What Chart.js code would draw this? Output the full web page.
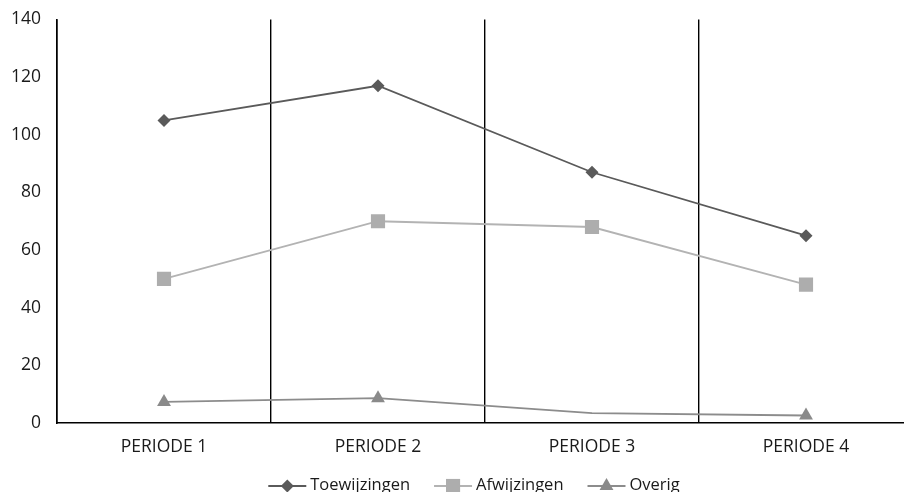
<!DOCTYPE html>
<html>
<head>
<meta charset="utf-8">
<script src="https://cdn.jsdelivr.net/npm/chart.js@4.4.1/dist/chart.umd.min.js"></script>
<style>
  html, body { margin: 0; padding: 0; background: #fff; overflow: hidden; }
  #wrap { width: 904px; height: 492px; overflow: hidden; }
  canvas { display: block; }
</style>
</head>
<body>
<div id="wrap"><canvas id="c" width="916" height="492" style="width:916px;height:492px"></canvas></div>
<script>
// Periods on the x axis
const categories = ['PERIODE 1', 'PERIODE 2', 'PERIODE 3', 'PERIODE 4'];

// Series values per period
const toewijzingen = [105, 117, 87, 65];
const afwijzingen = [50, 70, 68, 48];
const overig = [7.3, 8.6, 3.4, 2.6];

// Y axis range and step
const yMin = 0;
const yMax = 140;
const yStep = 20;

const FONT = '"Open Sans", "Noto Sans", sans-serif';

function markerPath(ctx, style, x, y, r) {
  ctx.beginPath();
  if (style === 'rectRot') {
    ctx.moveTo(x, y - r); ctx.lineTo(x + r, y); ctx.lineTo(x, y + r); ctx.lineTo(x - r, y);
  } else if (style === 'rect') {
    const s = r * Math.SQRT1_2;
    ctx.rect(x - s, y - s, 2 * s, 2 * s);
  } else if (style === 'triangle') {
    const h = r * Math.cos(Math.PI / 6);
    ctx.moveTo(x, y - r); ctx.lineTo(x + h, y + r / 2); ctx.lineTo(x - h, y + r / 2);
  }
  ctx.closePath();
  ctx.fill();
}

// Legend drawn below the axis: a short line with the series marker, then the name
const lineLegend = {
  id: 'lineLegend',
  afterDraw(chart, args, opts) {
    const ctx = chart.ctx;
    ctx.save();
    ctx.font = opts.fontSize + 'px ' + FONT;
    ctx.textBaseline = 'alphabetic';
    const items = chart.data.datasets.map(ds => ({
      ds, w: opts.segment + opts.textGap + ctx.measureText(ds.label).width
    }));
    const total = items.reduce((a, it) => a + it.w, 0) + opts.itemGap * (items.length - 1);
    let x = opts.centerX - total / 2;
    const y = opts.y;
    items.forEach(({ ds, w }) => {
      ctx.strokeStyle = ds.borderColor;
      ctx.lineWidth = ds.borderWidth;
      ctx.beginPath();
      ctx.moveTo(x, y); ctx.lineTo(x + opts.segment, y);
      ctx.stroke();
      ctx.fillStyle = ds.pointBackgroundColor;
      markerPath(ctx, ds.pointStyle, x + opts.segment / 2, y, ds.legendRadius);
      ctx.fillStyle = '#1a1a1a';
      ctx.textAlign = 'left';
      ctx.fillText(ds.label, x + opts.segment + opts.textGap, y + 4);
      x += w + opts.itemGap;
    });
    ctx.restore();
  }
};

new Chart(document.getElementById('c'), {
  type: 'line',
  data: {
    labels: categories,
    datasets: [
      {
        label: 'Toewijzingen',
        data: toewijzingen,
        borderColor: '#5a5a5a',
        backgroundColor: '#5a5a5a',
        pointBackgroundColor: '#5a5a5a',
        pointBorderWidth: 0,
        borderWidth: 1.8,
        pointStyle: 'rectRot',
        pointRadius: 6.5,
        legendRadius: 6.5,
        tension: 0
      },
      {
        label: 'Afwijzingen',
        data: afwijzingen,
        borderColor: '#b3b3b3',
        backgroundColor: '#adadad',
        pointBackgroundColor: '#adadad',
        pointBorderWidth: 0,
        borderWidth: 1.8,
        pointStyle: 'rect',
        pointRadius: 10,
        legendRadius: 10,
        tension: 0
      },
      {
        label: 'Overig',
        data: overig,
        borderColor: '#8c8c8c',
        backgroundColor: '#8a8a8a',
        pointBackgroundColor: '#8a8a8a',
        pointBorderWidth: 0,
        borderWidth: 1.8,
        pointStyle: 'triangle',
        pointRadius: [8, 8, 0, 8],
        legendRadius: 8,
        tension: 0
      }
    ]
  },
  options: {
    responsive: false,
    animation: false,
    devicePixelRatio: 1,
    layout: { autoPadding: false, padding: { top: 19.5, right: 3, bottom: 0, left: 0 } },
    plugins: {
      legend: { display: false },
      tooltip: { enabled: false },
      lineLegend: { centerX: 474, y: 486, fontSize: 16.5, segment: 38, textGap: 4, itemGap: 24 }
    },
    scales: {
      x: {
        offset: true,
        grid: { display: true, offset: true, color: '#000', lineWidth: 1.4, drawTicks: false },
        border: { display: true, color: '#000', width: 1.6 },
        ticks: { color: '#1a1a1a', font: { family: FONT, size: 17.5 }, padding: 14 },
        afterFit(scale) { scale.height = 69; }
      },
      y: {
        min: yMin,
        max: yMax,
        grid: { display: false, drawTicks: false },
        border: { display: true, color: '#000', width: 1.6 },
        ticks: { stepSize: yStep, color: '#1a1a1a', font: { family: FONT, size: 17.5 }, padding: 16 },
        afterFit(scale) {
          scale.width = 57;
          scale.paddingTop = 0;
          scale.paddingBottom = 0;
        }
      }
    }
  },
  plugins: [lineLegend]
});
</script>
</body>
</html>
